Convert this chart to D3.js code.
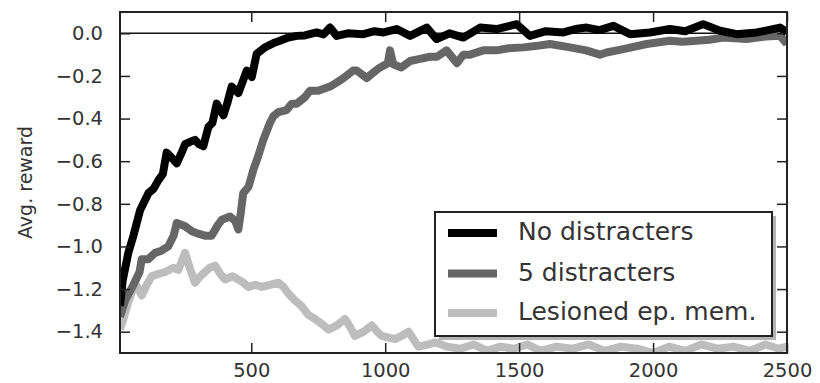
<!DOCTYPE html>
<html>
<head>
<meta charset="utf-8">
<script src="https://cdn.jsdelivr.net/npm/d3@7"></script>
<style>
  html, body { margin: 0; padding: 0; background: #fff; }
  svg { display: block; font-family: "DejaVu Sans", sans-serif; }
</style>
</head>
<body>
<svg id="chart" width="820" height="383"></svg>
<script>
// ---- data ----
const seriesNames = ["No distracters", "5 distracters", "Lesioned ep. mem."];

const noDistX = [10, 20, 41, 60, 85, 116, 135, 153, 170, 184, 200, 222, 240, 253, 270, 290, 305, 321, 340, 355, 371, 396, 410, 427, 452, 470, 483, 502, 520, 551, 589, 607, 638, 670, 700, 744, 770, 794, 819, 860, 918, 960, 993, 1043, 1093, 1155, 1192, 1240, 1292, 1354, 1416, 1491, 1540, 1600, 1665, 1710, 1752, 1800, 1852, 1914, 1988, 2063, 2120, 2187, 2250, 2312, 2387, 2430, 2474, 2500];
const noDistY = [-1.28, -1.16, -1.03, -0.95, -0.83, -0.75, -0.73, -0.69, -0.66, -0.56, -0.58, -0.61, -0.56, -0.52, -0.51, -0.50, -0.52, -0.53, -0.44, -0.42, -0.33, -0.385, -0.33, -0.25, -0.28, -0.22, -0.175, -0.205, -0.097, -0.066, -0.043, -0.035, -0.02, -0.012, -0.01, 0.004, -0.005, 0.027, -0.012, 0.0, -0.004, 0.01, 0.004, 0.02, -0.012, 0.027, -0.027, 0.0, -0.02, 0.027, 0.02, 0.043, -0.012, 0.01, 0.004, 0.02, 0.027, 0.015, 0.035, -0.004, 0.004, 0.02, 0.01, 0.043, 0.012, -0.004, 0.004, 0.015, 0.027, 0.004];

const fiveDistX = [10, 30, 60, 83, 91, 115, 141, 165, 190, 210, 222, 253, 280, 302, 330, 352, 375, 390, 421, 440, 452, 460, 470, 490, 508, 525, 545, 570, 582, 601, 632, 651, 670, 700, 719, 750, 794, 820, 844, 880, 894, 931, 960, 981, 1010, 1018, 1030, 1060, 1093, 1130, 1167, 1193, 1229, 1268, 1292, 1317, 1366, 1416, 1460, 1516, 1560, 1615, 1690, 1750, 1802, 1826, 1889, 1976, 2063, 2110, 2163, 2210, 2262, 2349, 2420, 2474, 2500];
const fiveDistY = [-1.33, -1.25, -1.18, -1.12, -1.06, -1.06, -1.03, -1.02, -1.00, -0.95, -0.89, -0.905, -0.93, -0.94, -0.95, -0.95, -0.90, -0.875, -0.86, -0.88, -0.92, -0.85, -0.75, -0.72, -0.64, -0.58, -0.50, -0.42, -0.39, -0.37, -0.36, -0.33, -0.33, -0.30, -0.27, -0.27, -0.25, -0.23, -0.21, -0.175, -0.175, -0.21, -0.18, -0.16, -0.14, -0.08, -0.145, -0.16, -0.13, -0.12, -0.11, -0.11, -0.08, -0.14, -0.10, -0.10, -0.08, -0.08, -0.07, -0.066, -0.06, -0.05, -0.066, -0.08, -0.10, -0.09, -0.074, -0.05, -0.035, -0.04, -0.035, -0.03, -0.02, -0.027, -0.015, -0.012, -0.05];

const lesionX = [10, 25, 41, 66, 91, 110, 128, 150, 178, 210, 228, 253, 270, 290, 310, 327, 345, 365, 385, 402, 430, 452, 470, 489, 515, 539, 570, 601, 620, 638, 660, 688, 712, 738, 760, 788, 820, 850, 870, 887, 920, 950, 970, 987, 1037, 1060, 1087, 1124, 1160, 1186, 1230, 1280, 1330, 1380, 1430, 1480, 1530, 1580, 1640, 1700, 1760, 1820, 1880, 1940, 2000, 2060, 2120, 2180, 2240, 2300, 2360, 2420, 2470, 2500];
const lesionY = [-1.39, -1.33, -1.26, -1.17, -1.23, -1.18, -1.14, -1.13, -1.12, -1.10, -1.11, -1.03, -1.10, -1.17, -1.14, -1.12, -1.10, -1.09, -1.13, -1.155, -1.14, -1.155, -1.17, -1.19, -1.18, -1.19, -1.18, -1.17, -1.19, -1.22, -1.25, -1.28, -1.32, -1.34, -1.36, -1.39, -1.37, -1.34, -1.38, -1.42, -1.40, -1.37, -1.40, -1.42, -1.435, -1.42, -1.40, -1.47, -1.46, -1.45, -1.47, -1.48, -1.46, -1.49, -1.47, -1.48, -1.46, -1.49, -1.47, -1.48, -1.46, -1.49, -1.47, -1.48, -1.50, -1.47, -1.49, -1.46, -1.48, -1.47, -1.49, -1.46, -1.48, -1.47];

const xTicks = [500, 1000, 1500, 2000, 2500];
const yTicks = [0.0, -0.2, -0.4, -0.6, -0.8, -1.0, -1.2, -1.4];
const yLabel = "Avg. reward";

// ---- layout ----
const svg = d3.select("#chart");
const W = 820, H = 383;
const m = { left: 120, right: 33, top: 12, bottom: 30 };
const pw = W - m.left - m.right, ph = H - m.top - m.bottom;

const x = d3.scaleLinear().domain([10, 2500]).range([m.left, m.left + pw]);
const y = d3.scaleLinear().domain([-1.5, 0.1]).range([m.top + ph, m.top]);

svg.append("rect").attr("width", W).attr("height", H).attr("fill", "#fff");

svg.append("defs").append("clipPath").attr("id", "clip")
  .append("rect").attr("x", m.left).attr("y", m.top).attr("width", pw).attr("height", ph);

// zero line
svg.append("line")
  .attr("x1", m.left).attr("x2", m.left + pw)
  .attr("y1", y(0)).attr("y2", y(0))
  .attr("stroke", "#111").attr("stroke-width", 1.6);

const colors = ["#000000", "#666666", "#bdbdbd"];
const series = [
  { xs: noDistX, ys: noDistY },
  { xs: fiveDistX, ys: fiveDistY },
  { xs: lesionX, ys: lesionY }
];
const line = d3.line().x(d => x(d[0])).y(d => y(d[1]));
const g = svg.append("g").attr("clip-path", "url(#clip)");
// draw in reverse order so black is on top
[2, 1, 0].forEach(i => {
  const s = series[i];
  const pts = s.xs.map((v, j) => [v, s.ys[j]]);
  g.append("path").datum(pts)
    .attr("d", line)
    .attr("fill", "none")
    .attr("stroke", colors[i])
    .attr("stroke-width", 8)
    .attr("stroke-linejoin", "round")
    .attr("stroke-linecap", "butt");
});

// axes (ticks inward on all four sides)
const tickLen = 10;
const fmt = d => (d < 0 ? "\u2212" : "") + Math.abs(d).toFixed(1);
const axB = d3.axisBottom(x).tickValues(xTicks).tickSizeInner(-tickLen).tickSizeOuter(0).tickPadding(10).tickFormat(d3.format("d"));
const axT = d3.axisTop(x).tickValues(xTicks).tickSizeInner(-tickLen).tickSizeOuter(0).tickFormat("");
const axL = d3.axisLeft(y).tickValues(yTicks).tickSizeInner(-tickLen).tickSizeOuter(0).tickPadding(17).tickFormat(fmt);
const axR = d3.axisRight(y).tickValues(yTicks).tickSizeInner(-tickLen).tickSizeOuter(0).tickFormat("");

function style(sel) {
  sel.select(".domain").remove();
  sel.selectAll(".tick line").attr("stroke", "#222").attr("stroke-width", 1.5);
  sel.selectAll(".tick text").attr("fill", "#333").style("font-size", "19.5px").style("font-family", "'DejaVu Sans', sans-serif");
}
svg.append("g").attr("transform", `translate(0,${m.top + ph})`).call(axB).call(style);
svg.append("g").attr("transform", `translate(0,${m.top})`).call(axT).call(style);
svg.append("g").attr("transform", `translate(${m.left},0)`).call(axL).call(style);
svg.append("g").attr("transform", `translate(${m.left + pw},0)`).call(axR).call(style);

// frame
svg.append("rect")
  .attr("x", m.left).attr("y", m.top).attr("width", pw).attr("height", ph)
  .attr("fill", "none").attr("stroke", "#222").attr("stroke-width", 2);

// y label
svg.append("text")
  .attr("transform", `translate(32,${m.top + ph / 2}) rotate(-90)`)
  .attr("text-anchor", "middle")
  .attr("fill", "#333")
  .style("font-size", "19px")
  .text(yLabel);

// legend
const lg = { x: 435, y: 212, w: 337, h: 124 };
svg.append("rect").attr("x", lg.x + 4).attr("y", lg.y + 4).attr("width", lg.w).attr("height", lg.h)
  .attr("fill", "#808080").attr("opacity", 0.6);
svg.append("rect").attr("x", lg.x).attr("y", lg.y).attr("width", lg.w).attr("height", lg.h)
  .attr("fill", "#fff").attr("stroke", "#222").attr("stroke-width", 2);
const rowY = [233, 273.5, 313];
seriesNames.forEach((name, i) => {
  svg.append("line")
    .attr("x1", lg.x + 13).attr("x2", lg.x + 62)
    .attr("y1", rowY[i]).attr("y2", rowY[i])
    .attr("stroke", colors[i]).attr("stroke-width", 8);
  svg.append("text")
    .attr("x", lg.x + 83).attr("y", rowY[i] + 7)
    .attr("fill", "#333")
    .style("font-size", "25px")
    .text(name);
});
</script>
</body>
</html>
